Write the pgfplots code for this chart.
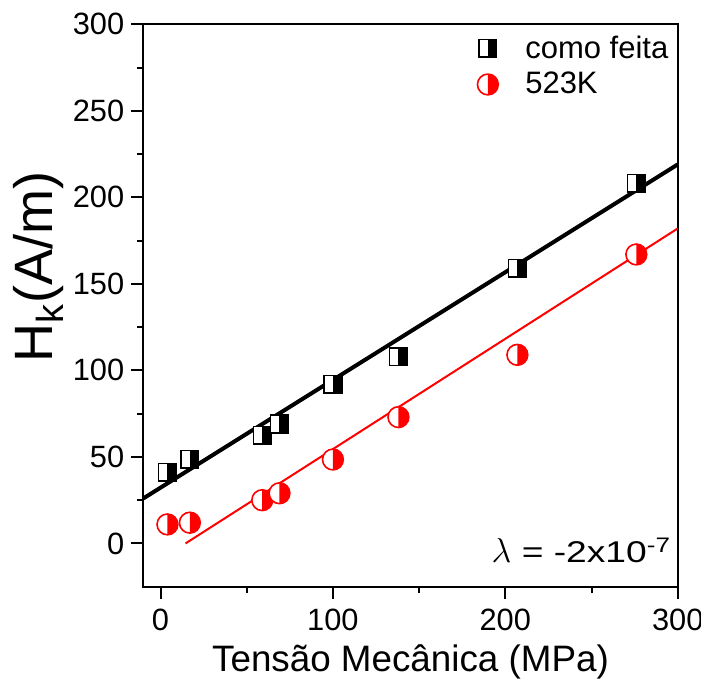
\documentclass[border=0pt]{standalone}
\usepackage{graphicx}
\usepackage{pgfplots}
\pgfplotsset{compat=1.18}
\usetikzlibrary{calc}
\usepackage{fontspec}
\setmainfont{Liberation Sans}
\pgfdeclareplotmark{halfsq}{%
  \pgfsetfillcolor{white}%
  \pgfpathrectangle{\pgfqpoint{-\pgfplotmarksize}{-\pgfplotmarksize}}{\pgfqpoint{2\pgfplotmarksize}{2\pgfplotmarksize}}%
  \pgfusepathqfill
  \pgfsetfillcolor{black}%
  \pgfpathrectangle{\pgfqpoint{0pt}{-\pgfplotmarksize}}{\pgfqpoint{\pgfplotmarksize}{2\pgfplotmarksize}}%
  \pgfusepathqfill
  \pgfsetstrokecolor{black}%
  \pgfpathrectangle{\pgfqpoint{-\pgfplotmarksize}{-\pgfplotmarksize}}{\pgfqpoint{2\pgfplotmarksize}{2\pgfplotmarksize}}%
  \pgfusepathqstroke
}
\pgfdeclareplotmark{halfcirc}{%
  \pgfsetfillcolor{white}%
  \pgfpathcircle{\pgfpointorigin}{\pgfplotmarksize}%
  \pgfusepathqfill
  \pgfsetfillcolor{red}%
  \pgfpathmoveto{\pgfqpoint{0pt}{\pgfplotmarksize}}%
  \pgfpatharc{90}{-90}{\pgfplotmarksize}%
  \pgfpathclose
  \pgfusepathqfill
  \pgfsetstrokecolor{red}%
  \pgfpathcircle{\pgfpointorigin}{\pgfplotmarksize}%
  \pgfusepathqstroke
}
\begin{document}
\begin{tikzpicture}
\begin{axis}[
  scale only axis,
  width=267.2pt, height=281.2pt,
  xmin=-10, xmax=300, ymin=-25, ymax=300,
  xtick={0,100,200,300}, minor xtick={50,150,250},
  ytick={0,50,...,300}, minor ytick={25,75,...,275},
  tick align=outside, tick pos=left,
  major tick length=6pt, minor tick length=3.2pt,
  every tick/.style={black, line width=1pt},
  axis line style={line width=1pt},
  /pgf/number format/assume math mode=true,
  tick label style={font=\fontsize{15.4}{18}\selectfont},
  xticklabel style={yshift=-1.5pt},
  xlabel={Tensão Mecânica (MPa)},
  ylabel={H\textsubscript{k}(A/m)},
  xlabel style={font=\fontsize{18.4}{21}\selectfont, inner sep=0pt,
    at={($(rel axis cs:0.5,0)+(0pt,-42.15pt)$)}, anchor=base},
  ylabel style={font=\fontsize{27}{31}\selectfont, inner sep=0pt,
    at={($(rel axis cs:0,0.5685)+(-45.15pt,0pt)$)}, anchor=base},
  legend style={draw=none, fill=none, at={(rel axis cs:1,1)}, anchor=north east,
    xshift=0.5pt, yshift=-1.5pt,
    font=\fontsize{15.5}{18}\selectfont, row sep=1.5pt},
  legend cell align=left,
  clip=false,
]
\coordinate (LL) at (rel axis cs:0,0);
\coordinate (UR) at (rel axis cs:1,1);
\addplot[black, line width=2pt, forget plot] coordinates {(-10,26) (300,219)};
\addplot[red, line width=1pt, forget plot] coordinates {(14.5,0) (300,182)};
\addplot[only marks, mark=halfsq, mark size=4.4pt, line width=0.8pt] coordinates {
(4,41) (17,48.6) (59,62.5) (69,69) (100,92) (138,108) (207,159) (276,208)};
\addlegendentry{\hspace{11.5pt}como feita}
\addplot[only marks, mark=halfcirc, mark size=5.2pt, line width=0.8pt] coordinates {
(4,11) (17,12) (59,25) (69,29) (100,48.5) (138,73) (207,109) (276,167)};
\addlegendentry{\hspace{11.5pt}523K}
\node[anchor=base east, inner sep=0pt, font=\fontsize{15}{17}\selectfont] at ($(rel axis cs:1,0)+(-3pt,12pt)$) {{\fontsize{19}{20}\selectfont$\lambda$}\scalebox{1.24}[1]{ = -2x10\textsuperscript{-7}}};
\end{axis}
\pgfresetboundingbox
\path[use as bounding box] ($(LL)+(-71.65pt,-46.65pt)$) rectangle ($(UR)+(11.65pt,12.15pt)$);
\end{tikzpicture}
\end{document}
